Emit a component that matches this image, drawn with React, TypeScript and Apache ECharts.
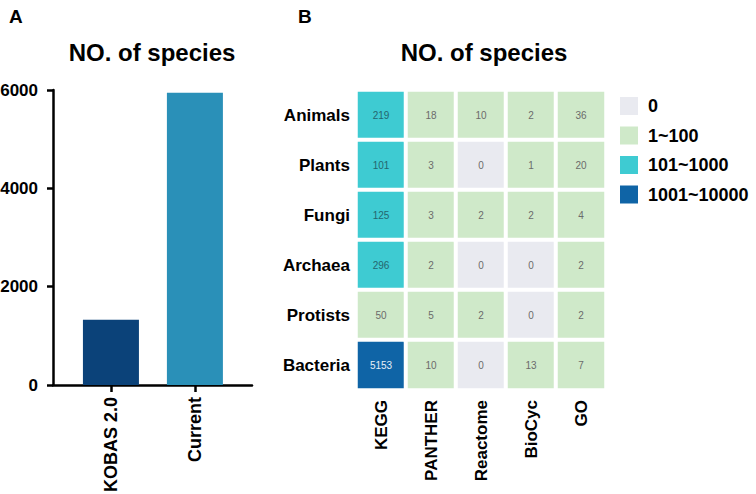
import React, { useEffect, useRef } from "react";
import * as echarts from "echarts";

const versions = ["KOBAS 2.0", "Current"];
const speciesCounts = [1327, 5944];
const versionColors = ["#0b4279", "#2a90b8"];

const databases = ["KEGG", "PANTHER", "Reactome", "BioCyc", "GO"];
const groups = ["Animals", "Plants", "Fungi", "Archaea", "Protists", "Bacteria"];
const kegg = [219, 101, 125, 296, 50, 5153];
const panther = [18, 3, 3, 2, 5, 10];
const reactome = [10, 0, 2, 0, 2, 0];
const biocyc = [2, 1, 2, 0, 0, 13];
const go = [36, 20, 4, 2, 2, 7];
const columns = [kegg, panther, reactome, biocyc, go];

const FONT = 'Arial, "Liberation Sans", Helvetica, sans-serif';

function labelColor(v: number) {
  if (v > 1000) return "#e6eef6";
  if (v > 100) return "#25666e";
  return "#6b6b6b";
}

export default function App() {
  const ref = useRef<HTMLDivElement>(null);
  useEffect(() => {
    if (!ref.current) return;
    const chart = echarts.init(ref.current, null, { renderer: "svg" });
    const heatData: any[] = [];
    columns.forEach((col, x) => {
      col.forEach((v, y) => {
        heatData.push({ value: [x, y, v], label: { color: labelColor(v) } });
      });
    });
    const barData = speciesCounts.map((v, i) => ({
      value: [i + 1, v],
      itemStyle: { color: versionColors[i] },
    }));
    chart.setOption({
      animation: false,
      textStyle: { fontFamily: FONT },
      title: [
        { text: "A", left: 4, top: 2, textStyle: { fontSize: 19, fontWeight: "bold", color: "#000", fontFamily: FONT } },
        { text: "B", left: 293, top: 2, textStyle: { fontSize: 19, fontWeight: "bold", color: "#000", fontFamily: FONT } },
        { text: "NO. of species", left: 147, textAlign: "center", top: 35, textStyle: { fontSize: 24, fontWeight: "bold", color: "#000", fontFamily: FONT } },
        { text: "NO. of species", left: 479, textAlign: "center", top: 35, textStyle: { fontSize: 24, fontWeight: "bold", color: "#000", fontFamily: FONT } },
      ],
      grid: [
        { left: 53, top: 90, width: 199, height: 295, outerBoundsMode: "none", containLabel: false },
        { left: 356, top: 90, width: 250, height: 300, outerBoundsMode: "none", containLabel: false },
      ],
      xAxis: [
        {
          gridIndex: 0,
          type: "value",
          min: 0.31,
          max: 2.68,
          splitLine: { show: false },
          axisLine: { show: true, lineStyle: { color: "#000", width: 2.5 } },
          axisTick: { show: true, customValues: [1, 2], length: 7, lineStyle: { color: "#000", width: 2.5 } },
          axisLabel: {
            customValues: [1, 2],
            formatter: (v: number) => versions[Math.round(v) - 1] || "",
            rotate: 90,
            margin: 12,
            fontSize: 18,
            fontWeight: "bold",
            color: "#000",
            fontFamily: FONT,
          },
        },
        {
          gridIndex: 1,
          type: "category",
          data: databases,
          axisLine: { show: false },
          axisTick: { show: false },
          axisLabel: { rotate: 90, margin: 10, fontSize: 17, fontWeight: "bold", color: "#000", fontFamily: FONT },
        },
      ],
      yAxis: [
        {
          gridIndex: 0,
          type: "value",
          min: 0,
          max: 6000,
          interval: 2000,
          splitLine: { show: false },
          axisLine: { show: true, lineStyle: { color: "#000", width: 2.5 } },
          axisTick: { show: true, length: 6, lineStyle: { color: "#000", width: 2.5 } },
          axisLabel: { margin: 15, fontSize: 17, fontWeight: "bold", color: "#000", fontFamily: FONT, formatter: (v: number) => String(v) },
        },
        {
          gridIndex: 1,
          type: "category",
          data: groups,
          inverse: true,
          axisLine: { show: false },
          axisTick: { show: false },
          axisLabel: { margin: 6, fontSize: 17, fontWeight: "bold", color: "#000", fontFamily: FONT },
        },
      ],
      visualMap: {
        type: "piecewise",
        seriesIndex: 1,
        dimension: 2,
        orient: "vertical",
        inverse: true,
        left: 605,
        top: 82,
        itemWidth: 18,
        itemHeight: 18,
        itemGap: 11.5,
        itemSymbol: "rect",
        align: "left",
        textGap: 10,
        hoverLink: false,
        selectedMode: false,
        textStyle: { fontSize: 18, fontWeight: "bold", color: "#000", fontFamily: FONT },
        pieces: [
          { value: 0, label: "0", color: "#e9eaf0" },
          { min: 1, max: 100, label: "1~100", color: "#cfe9c9" },
          { min: 101, max: 1000, label: "101~1000", color: "#3ecbd2" },
          { min: 1001, max: 10000, label: "1001~10000", color: "#0f64a6" },
        ],
      },
      series: [
        {
          type: "bar",
          xAxisIndex: 0,
          yAxisIndex: 0,
          barWidth: 56,
          data: barData,
        },
        {
          type: "heatmap",
          xAxisIndex: 1,
          yAxisIndex: 1,
          data: heatData,
          itemStyle: { borderColor: "#fff", borderWidth: 4 },
          label: { show: true, fontSize: 10, fontFamily: FONT },
          emphasis: { disabled: true },
        },
      ],
    });
    return () => chart.dispose();
  }, []);
  return <div ref={ref} style={{ position: "absolute", left: 0, top: 0, width: 756, height: 494 }} />;
}
